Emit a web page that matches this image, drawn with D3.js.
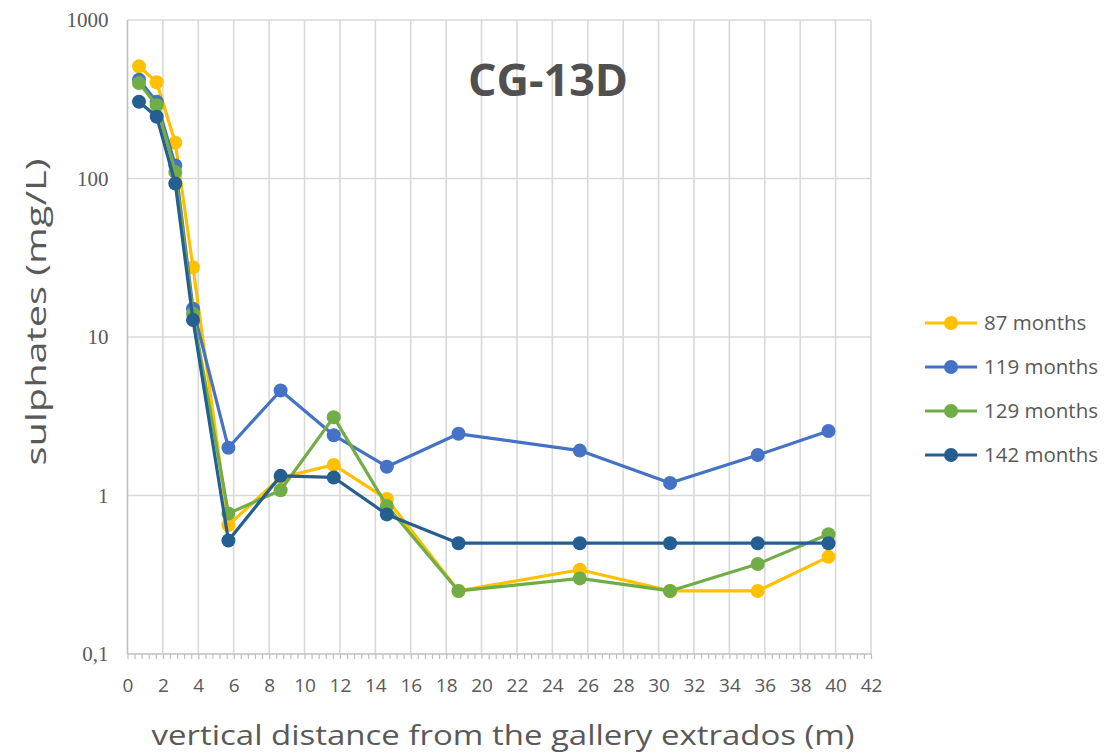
<!DOCTYPE html>
<html>
<head>
<meta charset="utf-8">
<script src="https://cdn.jsdelivr.net/npm/d3@7"></script>
<style>
  html, body { margin: 0; padding: 0; background: #ffffff; }
  svg { display: block; }
</style>
</head>
<body>
<svg id="chart" width="1107" height="753"></svg>
<script>
// ---- data ----
const chartTitle = "CG-13D";
const distances = [0.65, 1.65, 2.7, 3.7, 5.7, 8.65, 11.65, 14.65, 18.7, 25.55, 30.65, 35.6, 39.6];
const seriesNames = ["87 months", "119 months", "129 months", "142 months"];
const months87  = [510, 405, 168, 27.5, 0.65, 1.3, 1.56, 0.95, 0.25, 0.34, 0.25, 0.25, 0.41];
const months119 = [420, 305, 121, 15.1, 2.0, 4.6, 2.4, 1.52, 2.45, 1.92, 1.2, 1.8, 2.55];
const months129 = [400, 290, 110, 14.0, 0.77, 1.08, 3.12, 0.86, 0.25, 0.30, 0.25, 0.37, 0.57];
const months142 = [305, 245, 93, 12.8, 0.52, 1.33, 1.3, 0.76, 0.5, 0.5, 0.5, 0.5, 0.5];
const seriesColors = ["#FFC000", "#4472C4", "#70AD47", "#255E91"];
const xTicks = d3.range(0, 43, 2);
const yTicks = [0.1, 1, 10, 100, 1000];
const yTickLabels = ["0,1", "1", "10", "100", "1000"];
const xTitle = "vertical distance from the gallery extrados (m)";
const yTitle = "sulphates (mg/L)";

const allSeries = [months87, months119, months129, months142];

// ---- layout ----
const svg = d3.select("#chart");
const x = d3.scaleLinear().domain([0, 42]).range([127.5, 871]);
const y = d3.scaleLog().domain([0.1, 1000]).range([654, 20]);

const gridColor = "#d9d9d9";
const axisColor = "#bfbfbf";
const textColor = "#595959";

// gridlines
svg.append("g").selectAll("line.vg")
  .data(xTicks.filter(d => d > 0))
  .join("line")
  .attr("x1", d => x(d)).attr("x2", d => x(d))
  .attr("y1", y(1000)).attr("y2", y(0.1))
  .attr("stroke", gridColor).attr("stroke-width", 1.6);

svg.append("g").selectAll("line.hg")
  .data(yTicks.filter(d => d > 0.1))
  .join("line")
  .attr("x1", x(0)).attr("x2", x(42))
  .attr("y1", d => y(d)).attr("y2", d => y(d))
  .attr("stroke", gridColor).attr("stroke-width", 1.6);

// x axis with minor ticks every 0.4
const xAxis = d3.axisBottom(x)
  .tickValues(d3.range(0, 42.001, 0.4))
  .tickSize(5)
  .tickFormat("");
const gx = svg.append("g").attr("transform", `translate(0,${y(0.1)})`).call(xAxis);
gx.select(".domain").attr("stroke", axisColor).attr("stroke-width", 1.6).attr("d", `M${x(0)},0H${x(42)}`);
gx.selectAll(".tick line").attr("stroke", axisColor).attr("stroke-width", 1.2);

// x tick labels
const xLab = d3.axisBottom(x).tickValues(xTicks).tickSize(0).tickPadding(25);
const gxl = svg.append("g").attr("transform", `translate(0,${y(0.1)})`).call(xLab);
gxl.select(".domain").remove();
gxl.selectAll("text").attr("font-family", "'Open Sans', 'Noto Sans', sans-serif")
  .attr("font-size", 19).attr("fill", textColor);

// y axis
const yAxis = d3.axisLeft(y).tickValues(yTicks).tickSize(0).tickPadding(19)
  .tickFormat((d, i) => yTickLabels[i]);
const gy = svg.append("g").attr("transform", `translate(${x(0)},0)`).call(yAxis);
gy.select(".domain").attr("stroke", axisColor).attr("stroke-width", 1.6)
  .attr("d", `M0,${y(1000)}V${y(0.1)}`);
gy.selectAll("text").attr("font-family", "'Liberation Serif', 'DejaVu Serif', serif")
  .attr("font-size", 21).attr("fill", textColor);

// series
const line = d3.line().x((d, i) => x(distances[i])).y(d => y(d));
allSeries.forEach((vals, si) => {
  const g = svg.append("g");
  g.append("path").datum(vals)
    .attr("d", line).attr("fill", "none")
    .attr("stroke", seriesColors[si]).attr("stroke-width", 3.2)
    .attr("stroke-linejoin", "round");
  g.selectAll("circle").data(vals).join("circle")
    .attr("cx", (d, i) => x(distances[i])).attr("cy", d => y(d))
    .attr("r", 7).attr("fill", seriesColors[si]);
});

// title
svg.append("text").attr("x", 548).attr("y", 96)
  .attr("text-anchor", "middle")
  .attr("font-family", "'Open Sans', 'Noto Sans', sans-serif")
  .attr("font-weight", "bold").attr("font-size", 45)
  .attr("fill", "#505050")
  .attr("textLength", 160).attr("lengthAdjust", "spacingAndGlyphs")
  .text(chartTitle);

// axis titles
svg.append("text").attr("x", 503).attr("y", 745)
  .attr("text-anchor", "middle")
  .attr("font-family", "'Open Sans', 'Noto Sans', sans-serif")
  .attr("font-size", 28).attr("fill", textColor)
  .attr("textLength", 703).attr("lengthAdjust", "spacingAndGlyphs")
  .text(xTitle);

svg.append("text")
  .attr("transform", `translate(46,312) rotate(-90)`)
  .attr("text-anchor", "middle")
  .attr("font-family", "'Open Sans', 'Noto Sans', sans-serif")
  .attr("font-size", 28).attr("fill", textColor)
  .attr("textLength", 307).attr("lengthAdjust", "spacingAndGlyphs")
  .text(yTitle);

// legend
const legend = svg.append("g");
seriesNames.forEach((name, i) => {
  const ly = 323 + i * 44;
  legend.append("line").attr("x1", 925).attr("x2", 977).attr("y1", ly).attr("y2", ly)
    .attr("stroke", seriesColors[i]).attr("stroke-width", 3.2);
  legend.append("circle").attr("cx", 951).attr("cy", ly).attr("r", 7).attr("fill", seriesColors[i]);
  legend.append("text").attr("x", 984).attr("y", ly + 7)
    .attr("font-family", "'Open Sans', 'Noto Sans', sans-serif")
    .attr("font-size", 20.5).attr("fill", textColor).text(name);
});
</script>
</body>
</html>
